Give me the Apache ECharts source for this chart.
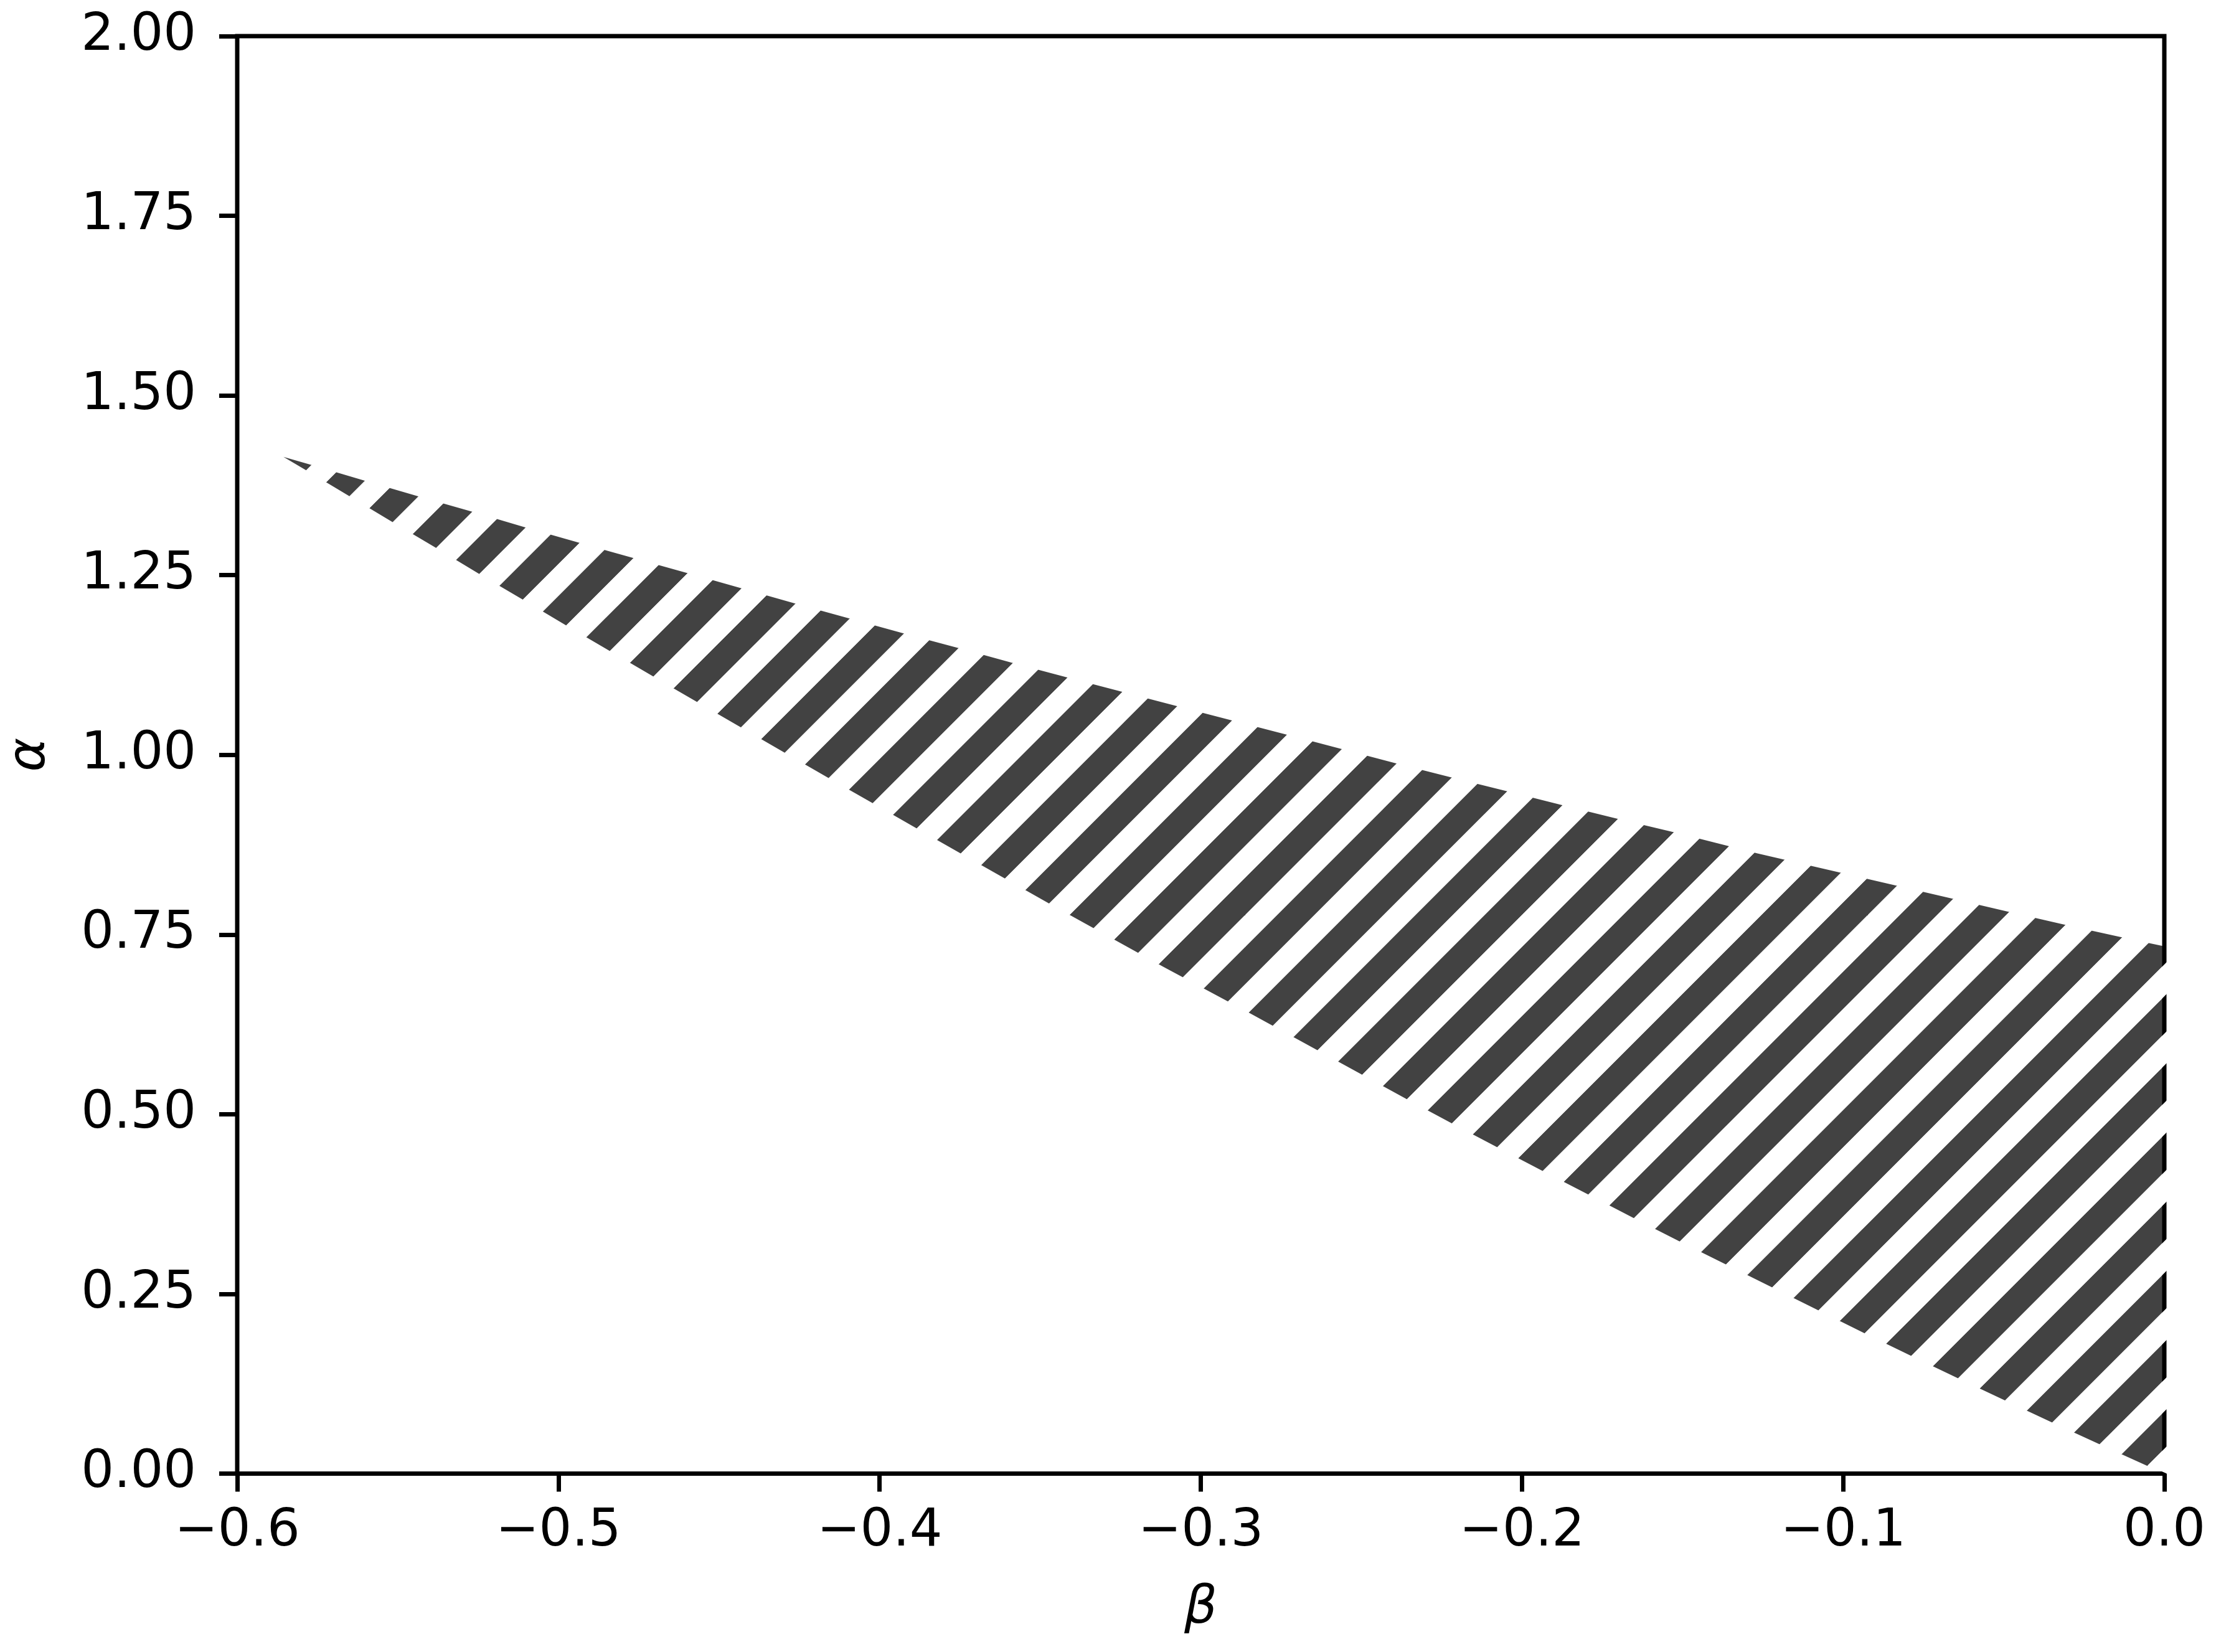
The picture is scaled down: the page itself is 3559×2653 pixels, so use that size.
<!DOCTYPE html>
<html>
<head>
<meta charset="utf-8">
<script src="https://cdn.jsdelivr.net/npm/echarts@6/dist/echarts.min.js"></script>
<style>
html,body{margin:0;padding:0;background:#fff;}
#chart{width:3559px;height:2653px;}
</style>
</head>
<body>
<div id="chart"></div>
<script>
// Upper boundary of the hatched region (beta, alpha)
const upperBeta  = [-0.5856,-0.5760,-0.5593,-0.5427,-0.5260,-0.5093,-0.4844,-0.4514,-0.4254,-0.4085,-0.3916,-0.3747,-0.3578,-0.3408,-0.2985,-0.2647,-0.2384,-0.2212,-0.2040,-0.1869,-0.1696,-0.1523,-0.1267,-0.0828,-0.0653,-0.0479,-0.0304,-0.0128,0.0];
const upperAlpha = [1.4146,1.4022,1.3802,1.3585,1.3372,1.3152,1.2836,1.2423,1.2095,1.1887,1.1679,1.1477,1.1269,1.1067,1.0573,1.0181,0.9872,0.9678,0.9487,0.9294,0.9103,0.8919,0.8630,0.8174,0.7992,0.7810,0.7630,0.7457,0.7335];
// Lower boundary of the hatched region (beta, alpha)
const lowerBeta  = [-0.5856,-0.5778,-0.5643,-0.5509,-0.5374,-0.5240,-0.5104,-0.4969,-0.4628,-0.4289,-0.4152,-0.4015,-0.3879,-0.3741,-0.3604,-0.3467,-0.3117,-0.2845,-0.2354,-0.2213,-0.2073,-0.1931,-0.1789,-0.1647,-0.1505,-0.0930,-0.0785,-0.0639,-0.0493,-0.0346,-0.0199,0.0];
const lowerAlpha = [1.4146,1.3940,1.3577,1.3219,1.2861,1.2500,1.2142,1.1783,1.0890,1.0013,0.9660,0.9311,0.8962,0.8612,0.8266,0.7919,0.7053,0.6400,0.5198,0.4861,0.4531,0.4199,0.3873,0.3544,0.3220,0.1944,0.1632,0.1320,0.1011,0.0705,0.0402,0.0];

const xTicks = {min: -0.6, max: 0.0, interval: 0.1};
const yTicks = {min: 0.0, max: 2.0, interval: 0.25};

// hatch tiles (diagonal "/" stripes); one with the dark stripes, one with the white gaps
function makeTile(drawGaps) {
  const T = 1000, n = 9, P = T / n, dark = 60, phase = 76;
  const c = document.createElement('canvas');
  c.width = T; c.height = T;
  const g = c.getContext('2d');
  g.fillStyle = drawGaps ? '#ffffff' : '#424242';
  const off = drawGaps ? dark : 0, w = drawGaps ? P - dark : dark;
  for (let k = -3; k <= 2 * n + 3; k++) {
    const a = phase + off + k * P, b = a + w;
    g.beginPath();
    g.moveTo(a, 0); g.lineTo(b, 0);
    g.lineTo(b - 2 * T, 2 * T); g.lineTo(a - 2 * T, 2 * T);
    g.closePath(); g.fill();
  }
  return c;
}
const hatchDark = makeTile(false);
const hatchGaps = makeTile(true);

function regionPoints(api, extendRight) {
  const pts = [];
  for (let i = 0; i < upperBeta.length; i++) pts.push(api.coord([upperBeta[i], upperAlpha[i]]));
  for (let i = lowerBeta.length - 1; i >= 1; i--) pts.push(api.coord([lowerBeta[i], lowerAlpha[i]]));
  if (extendRight) {
    const xr = api.coord([0, 0])[0];
    return pts.map(p => (Math.abs(p[0] - xr) < 0.5 ? [p[0] + 4, p[1]] : p));
  }
  return pts;
}

const font = 'DejaVu Sans';
const chart = echarts.init(document.getElementById('chart'), null, {renderer: 'canvas'});
chart.setOption({
  animation: false,
  backgroundColor: '#fff',
  grid: {left: 376.5, right: 83, top: 58, bottom: 286.5, show: true,
         borderColor: '#000', borderWidth: 7, backgroundColor: 'transparent'},
  xAxis: {
    type: 'value', min: xTicks.min, max: xTicks.max, interval: xTicks.interval,
    name: 'β', nameLocation: 'middle', nameGap: 176,
    nameTextStyle: {fontFamily: font, fontSize: 83, fontStyle: 'italic', color: '#000'},
    axisLine: {show: false, onZero: false},
    axisTick: {show: true, inside: false, length: 29, lineStyle: {color: '#000', width: 7}},
    splitLine: {show: false},
    axisLabel: {fontFamily: font, fontSize: 83, color: '#000', margin: 52,
      showMinLabel: true, showMaxLabel: true,
      formatter: v => (Math.abs(v) < 1e-9 ? 0 : v).toFixed(1).replace('-', '\u2212')}
  },
  yAxis: {
    type: 'value', min: yTicks.min, max: yTicks.max, interval: yTicks.interval,
    name: 'α', nameLocation: 'middle', nameGap: 290, nameRotate: 90,
    nameTextStyle: {fontFamily: font, fontSize: 83, fontStyle: 'italic', color: '#000'},
    axisLine: {show: false, onZero: false},
    axisTick: {show: true, inside: false, length: 29, lineStyle: {color: '#000', width: 7}},
    splitLine: {show: false},
    axisLabel: {fontFamily: font, fontSize: 83, color: '#000', margin: 66,
      showMinLabel: true, showMaxLabel: true,
      formatter: v => v.toFixed(2)}
  },
  series: [{
    type: 'custom',
    coordinateSystem: 'cartesian2d',
    data: [[upperBeta[0], upperAlpha[0]]],
    silent: true, z: -1,
    renderItem: function (params, api) {
      return {type: 'polygon', shape: {points: regionPoints(api, false)},
        style: {fill: {image: hatchDark, repeat: 'repeat'}, stroke: null, lineWidth: 0}};
    }
  }, {
    type: 'custom',
    coordinateSystem: 'cartesian2d',
    data: [[upperBeta[0], upperAlpha[0]]],
    silent: true, z: 5,
    renderItem: function (params, api) {
      return {type: 'polygon', shape: {points: regionPoints(api, true)},
        style: {fill: {image: hatchGaps, repeat: 'repeat'}, stroke: null, lineWidth: 0}};
    }
  }]
});
</script>
</body>
</html>
